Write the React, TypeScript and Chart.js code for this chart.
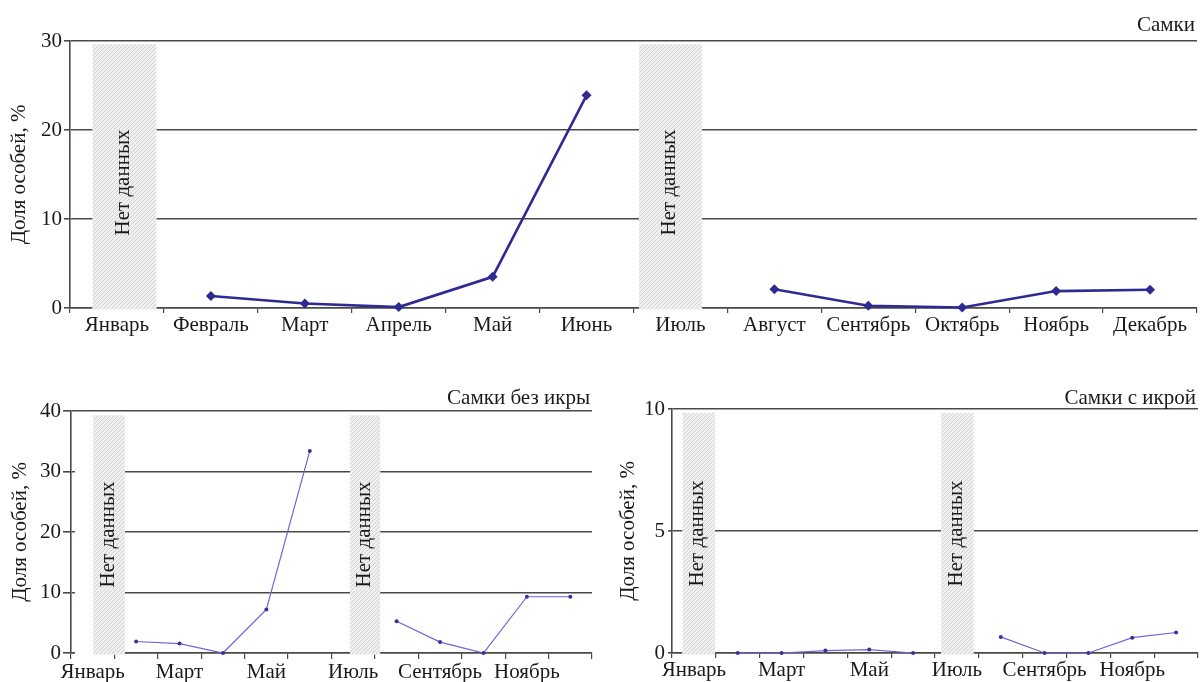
import React, { useEffect, useRef } from "react";
import { Chart, registerables } from "chart.js";

Chart.register(...registerables);

// ---------- data ----------
const months = [
  "Январь", "Февраль", "Март", "Апрель", "Май", "Июнь",
  "Июль", "Август", "Сентябрь", "Октябрь", "Ноябрь", "Декабрь",
];
const femalesAll = [null, 1.35, 0.5, 0.1, 3.5, 23.9, null, 2.1, 0.25, 0.05, 1.9, 2.05];
const femalesNoRoe = [null, 1.9, 1.55, 0, 7.2, 33.4, null, 5.25, 1.8, 0, 9.3, 9.3];
const femalesRoe = [null, 0, 0, 0.1, 0.14, 0, null, 0.66, 0, 0, 0.63, 0.84];

const topTicks = [0, 10, 20, 30];
const noRoeTicks = [0, 10, 20, 30, 40];
const roeTicks = [0, 5, 10];

const captionAll = "Самки";
const captionNoRoe = "Самки без икры";
const captionRoe = "Самки с икрой";
const yTitle = "Доля особей, %";
const noDataLabel = "Нет данных";

// ---------- styling ----------
const FONT = '"Liberation Serif", "Times New Roman", serif';
const FS = 21;
const GRID = "#4d4848";
const TEXT = "#1a1a1a";

let hatchCache: CanvasPattern | null = null;
function getHatch(ctx: CanvasRenderingContext2D): CanvasPattern {
  if (hatchCache) return hatchCache;
  const c = document.createElement("canvas");
  c.width = 4;
  c.height = 4;
  const g = c.getContext("2d")!;
  g.fillStyle = "#f0f0f0";
  g.fillRect(0, 0, 4, 4);
  g.strokeStyle = "#d2d2d2";
  g.lineWidth = 1;
  g.beginPath();
  g.moveTo(0, 4);
  g.lineTo(4, 0);
  g.moveTo(-1, 1);
  g.lineTo(1, -1);
  g.moveTo(3, 5);
  g.lineTo(5, 3);
  g.stroke();
  hatchCache = ctx.createPattern(c, "repeat")!;
  return hatchCache;
}

type Band = { from: number; to: number; top: number; clearFrom?: number };

function makeDecor(bands: Band[], textPos: number, caption: string, captionOffset: number) {
  return {
    id: "decor",
    beforeDatasetsDraw(chart: any) {
      const { ctx, chartArea, scales } = chart;
      const x = scales.x;
      const y = scales.y;
      const w = x.getPixelForValue(1) - x.getPixelForValue(0);
      const origin = x.getPixelForValue(0) - w / 2;
      const pattern = getHatch(ctx);
      bands.forEach((b) => {
        const l = origin + b.from * w;
        const r = origin + b.to * w;
        const t = y.getPixelForValue(b.top);
        const bt = chartArea.bottom + 1.5;
        ctx.save();
        const cl = b.clearFrom != null ? origin + b.clearFrom * w : l;
        ctx.fillStyle = "#ffffff";
        ctx.fillRect(cl, t, r - cl, bt - t);
        ctx.fillStyle = pattern;
        ctx.fillRect(l, t, r - l, bt - t);
        ctx.translate((l + r) / 2 - 1, chartArea.top + chartArea.height * textPos);
        ctx.rotate(-Math.PI / 2);
        ctx.font = `${FS}px ${FONT}`;
        ctx.fillStyle = TEXT;
        ctx.textAlign = "center";
        ctx.textBaseline = "middle";
        ctx.fillText(noDataLabel, 0, 0);
        ctx.restore();
      });
    },
    afterDraw(chart: any) {
      const { ctx, chartArea } = chart;
      ctx.save();
      ctx.font = `${FS}px ${FONT}`;
      ctx.fillStyle = TEXT;
      ctx.textAlign = "right";
      ctx.textBaseline = "middle";
      ctx.fillText(caption, chartArea.right - 2, chartArea.top - captionOffset);
      ctx.restore();
    },
  };
}

type Cfg = {
  values: (number | null)[];
  ticks: number[];
  yWidth: number;
  xHeight: number;
  padTop: number;
  padRight: number;
  yTickLen: number;
  yTickPad: number;
  xTickLen: number;
  xTickPad: number;
  titlePad: number;
  everyOther: boolean;
  bold: boolean;
  bands: Band[];
  textPos: number;
  caption: string;
  captionOffset: number;
};

function buildChart(canvas: HTMLCanvasElement, c: Cfg) {
  const yMin = c.ticks[0];
  const yMax = c.ticks[c.ticks.length - 1];
  const step = c.ticks[1] - c.ticks[0];
  return new Chart(canvas, {
    type: "line",
    data: {
      labels: months,
      datasets: [
        {
          data: c.values,
          borderColor: c.bold ? "#2e2a92" : "#6f64d6",
          borderWidth: c.bold ? 2.6 : 1.2,
          pointStyle: c.bold ? "rectRot" : "circle",
          pointRadius: c.bold ? 5 : 2,
          pointBackgroundColor: c.bold ? "#2e2a92" : "#3a2f9e",
          pointBorderColor: c.bold ? "#2e2a92" : "#3a2f9e",
          pointBorderWidth: 0,
          spanGaps: false,
          tension: 0,
          clip: false as any,
        },
      ],
    },
    options: {
      animation: false,
      responsive: false,
      devicePixelRatio: 1,
      events: [],
      layout: { padding: { top: c.padTop, right: c.padRight, left: 0, bottom: 0 } },
      plugins: { legend: { display: false }, tooltip: { enabled: false } },
      scales: {
        x: {
          type: "category",
          offset: true,
          grid: {
            display: true,
            drawOnChartArea: false,
            drawTicks: true,
            tickLength: c.xTickLen,
            color: GRID,
            lineWidth: 1.2,
            offset: true,
          },
          border: { display: true, color: GRID, width: 1.6 },
          ticks: {
            autoSkip: false,
            maxRotation: 0,
            padding: c.xTickPad,
            color: TEXT,
            font: { family: FONT, size: FS },
            callback: (_v: any, i: number) => (c.everyOther ? (i % 2 === 0 ? months[i] : "") : months[i]),
          },
          afterFit: (s: any) => {
            s.height = c.xHeight;
          },
        },
        y: {
          min: yMin,
          max: yMax,
          grid: {
            color: GRID,
            lineWidth: 1.6,
            drawTicks: true,
            tickLength: c.yTickLen,
          },
          border: { display: true, color: GRID, width: 1.6 },
          ticks: {
            stepSize: step,
            padding: c.yTickPad,
            color: TEXT,
            font: { family: FONT, size: FS },
          },
          title: {
            display: true,
            text: yTitle,
            color: TEXT,
            font: { family: FONT, size: FS, lineHeight: 1 },
            padding: { top: c.titlePad, bottom: 0 },
          },
          afterFit: (s: any) => {
            s.width = c.yWidth;
          },
        },
      },
    },
    plugins: [makeDecor(c.bands, c.textPos, c.caption, c.captionOffset)],
  } as any);
}

function ChartBox(props: { left: number; top: number; width: number; height: number; cfg: Cfg }) {
  const ref = useRef<HTMLCanvasElement>(null);
  useEffect(() => {
    if (!ref.current) return;
    const ch = buildChart(ref.current, props.cfg);
    return () => ch.destroy();
  }, []);
  return (
    <canvas
      ref={ref}
      width={props.width}
      height={props.height}
      style={{ position: "absolute", left: props.left, top: props.top, width: props.width, height: props.height }}
    />
  );
}

const topCfg: Cfg = {
  values: femalesAll,
  ticks: topTicks,
  yWidth: 70,
  xHeight: 37,
  padTop: 41,
  padRight: 0,
  yTickLen: 6,
  yTickPad: 2,
  xTickLen: 5,
  xTickPad: 0,
  titlePad: 9,
  everyOther: false,
  bold: true,
  bands: [
    { from: 0.24, to: 0.92, top: 29.65 },
    { from: 6.06, to: 6.73, top: 29.65 },
  ],
  textPos: 0.53,
  caption: captionAll,
  captionOffset: 16,
};

const noRoeCfg: Cfg = {
  values: femalesNoRoe,
  ticks: noRoeTicks,
  yWidth: 71,
  xHeight: 29,
  padTop: 41,
  padRight: 8,
  yTickLen: 8,
  yTickPad: 2,
  xTickLen: 6,
  xTickPad: 1,
  titlePad: 10,
  everyOther: true,
  bold: false,
  bands: [
    { from: 0.51, to: 1.24, top: 39.3, clearFrom: 0.09 },
    { from: 6.43, to: 7.12, top: 39.3 },
  ],
  textPos: 0.51,
  caption: captionNoRoe,
  captionOffset: 13,
};

const roeCfg: Cfg = {
  values: femalesRoe,
  ticks: roeTicks,
  yWidth: 72,
  xHeight: 29,
  padTop: 39,
  padRight: 0,
  yTickLen: 4,
  yTickPad: 3,
  xTickLen: 5,
  xTickPad: 0,
  titlePad: 18,
  everyOther: true,
  bold: false,
  bands: [
    { from: 0.24, to: 0.98, top: 9.85 },
    { from: 6.14, to: 6.88, top: 9.85 },
  ],
  textPos: 0.51,
  caption: captionRoe,
  captionOffset: 11,
};

export default function App() {
  return (
    <div
      style={{
        position: "absolute",
        left: 0,
        top: 0,
        width: 1202,
        height: 682,
        overflow: "hidden",
        background: "#ffffff",
      }}
    >
      <ChartBox left={0} top={0} width={1202} height={345} cfg={topCfg} />
      <ChartBox left={0} top={370} width={600} height={312} cfg={noRoeCfg} />
      <ChartBox left={600} top={370} width={602} height={312} cfg={roeCfg} />
    </div>
  );
}
